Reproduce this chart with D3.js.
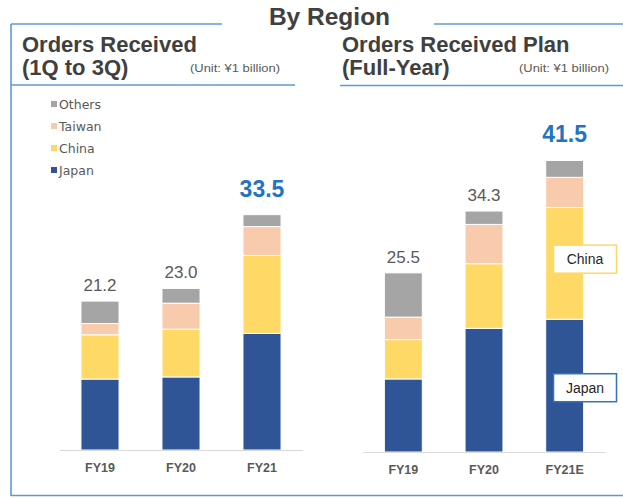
<!DOCTYPE html>
<html>
<head>
<meta charset="utf-8">
<script src="https://cdn.jsdelivr.net/npm/d3@7"></script>
<style>
  html, body { margin: 0; padding: 0; background: #ffffff; }
  svg { display: block; }
</style>
</head>
<body>
<svg id="chart" width="623" height="498"></svg>
<script>
// ---- data ----
const regions = ["Japan", "China", "Taiwan", "Others"];
const regionColors = ["#2f5597", "#ffd966", "#f8cbad", "#a5a5a5"];

const leftCategories = ["FY19", "FY20", "FY21"];
const leftJapan  = [10.1, 10.4, 16.6];
const leftChina  = [6.3, 6.8, 11.1];
const leftTaiwan = [1.6, 3.7, 4.1];
const leftOthers = [3.2, 2.1, 1.7];
const leftTotals = ["21.2", "23.0", "33.5"];

const rightCategories = ["FY19", "FY20", "FY21E"];
const rightJapan  = [10.4, 17.6, 18.9];
const rightChina  = [5.6, 9.2, 15.9];
const rightTaiwan = [3.2, 5.6, 4.3];
const rightOthers = [6.3, 1.9, 2.4];
const rightTotals = ["25.5", "34.3", "41.5"];

const title = "By Region";
const leftTitle = ["Orders Received", "(1Q to 3Q)"];
const rightTitle = ["Orders Received Plan", "(Full-Year)"];
const unitText = "(Unit: \u00a51 billion)";
const legendOrder = ["Others", "Taiwan", "China", "Japan"];

// ---- drawing ----
const svg = d3.select("#chart");
const frame = "#5b9bd5";
const grey = "#595959";
const fontA = "Arial, 'Liberation Sans', sans-serif";

// frame lines
const lines = [
  [11, 24, 222, 24], [11, 24, 11, 496], [11, 495.5, 623, 495.5],
  [11, 85, 295, 85], [434, 24, 623, 24], [340, 85.5, 623, 85.5]
];
svg.selectAll("line.frame").data(lines).join("line")
  .attr("class", "frame")
  .attr("x1", d => d[0]).attr("y1", d => d[1])
  .attr("x2", d => d[2]).attr("y2", d => d[3])
  .attr("stroke", frame).attr("stroke-width", 1.6);

// titles
svg.append("text").attr("x", 329.5).attr("y", 25).attr("text-anchor", "middle")
  .attr("font-family", fontA).attr("font-weight", "bold").attr("font-size", 24.5)
  .attr("fill", "#404040").text(title);

function header(x, lines, unitX) {
  lines.forEach((t, i) => {
    svg.append("text").attr("x", x).attr("y", 52 + i * 23)
      .attr("font-family", fontA).attr("font-weight", "bold").attr("font-size", 22)
      .attr("fill", "#404040").text(t);
  });
  svg.append("text").attr("x", unitX).attr("y", 72)
    .attr("font-family", fontA).attr("font-size", 11.5)
    .attr("textLength", 90).attr("lengthAdjust", "spacingAndGlyphs")
    .attr("fill", grey).text(unitText);
}
header(22, leftTitle, 190);
header(342, rightTitle, 519);

// legend
const legendColor = {Japan: regionColors[0], China: regionColors[1], Taiwan: regionColors[2], Others: regionColors[3]};
const lg = svg.append("g");
legendOrder.forEach((r, i) => {
  const y = 108.5 + i * 22;
  lg.append("rect").attr("x", 51).attr("y", y - 7.5).attr("width", 6).attr("height", 6)
    .attr("fill", legendColor[r]);
  lg.append("text").attr("x", 59).attr("y", y)
    .attr("font-family", "'DejaVu Sans', Verdana, sans-serif").attr("font-size", 12.5)
    .attr("fill", grey).text(r);
});

function drawChart(cats, series, totals, xRange, baseY, highlightIdx) {
  const data = cats.map((c, i) => {
    const o = {cat: c};
    regions.forEach((r, k) => o[r] = series[k][i]);
    return o;
  });
  const x = d3.scaleBand().domain(cats).range(xRange).paddingInner(0.53).paddingOuter(0.265);
  const y = d3.scaleLinear().domain([0, 40]).range([baseY, baseY - 281]);
  const stack = d3.stack().keys(regions)(data);
  const g = svg.append("g");
  g.selectAll("g.layer").data(stack).join("g")
    .attr("fill", (d, i) => regionColors[i])
    .selectAll("rect").data(d => d).join("rect")
    .attr("x", d => x(d.data.cat))
    .attr("width", x.bandwidth())
    .attr("y", d => y(d[1]))
    .attr("height", d => y(d[0]) - y(d[1]))
    .attr("stroke", "#ffffff").attr("stroke-width", 1);

  // axis
  const axis = g.append("g").attr("transform", `translate(0,${baseY})`)
    .call(d3.axisBottom(x).tickSize(0).tickPadding(13));
  axis.select(".domain").attr("stroke", "#d9d9d9").attr("stroke-width", 1.2);
  axis.selectAll("text").attr("font-family", fontA).attr("font-weight", "bold")
    .attr("font-size", 12.5).attr("fill", grey);

  // totals
  const totalVals = data.map(d => regions.reduce((s, r) => s + d[r], 0));
  g.selectAll("text.total").data(totals).join("text")
    .attr("class", "total")
    .attr("x", (d, i) => x(cats[i]) + x.bandwidth() / 2)
    .attr("y", (d, i) => y(totalVals[i]) - (i === highlightIdx ? 18 : 10))
    .attr("text-anchor", "middle")
    .attr("font-family", fontA)
    .attr("font-weight", (d, i) => i === highlightIdx ? "bold" : "normal")
    .attr("font-size", (d, i) => i === highlightIdx ? 23 : 17)
    .attr("fill", (d, i) => i === highlightIdx ? "#1f74c4" : grey)
    .text(d => d);
  return {x, y, data};
}

drawChart(leftCategories, [leftJapan, leftChina, leftTaiwan, leftOthers], leftTotals, [59.5, 302.5], 450, 2);
const right = drawChart(rightCategories, [rightJapan, rightChina, rightTaiwan, rightOthers], rightTotals, [363, 605], 452, 2);

// annotation boxes on FY21E bar
const last = right.data[2];
const boxes = [
  {label: "China", mid: last.Japan + last.China / 2 + 0.6, color: "#ffd966"},
  {label: "Japan", mid: last.Japan / 2 - 0.3, color: "#2e75b6"}
];
boxes.forEach(b => {
  const cy = right.y(b.mid);
  svg.append("rect").attr("x", 553.5).attr("y", cy - 14).attr("width", 63).attr("height", 28)
    .attr("fill", "#ffffff").attr("stroke", b.color).attr("stroke-width", 1.5);
  svg.append("text").attr("x", 585).attr("y", cy + 5).attr("text-anchor", "middle")
    .attr("font-family", fontA).attr("font-size", 14).attr("fill", "#262626").text(b.label);
});
</script>
</body>
</html>
